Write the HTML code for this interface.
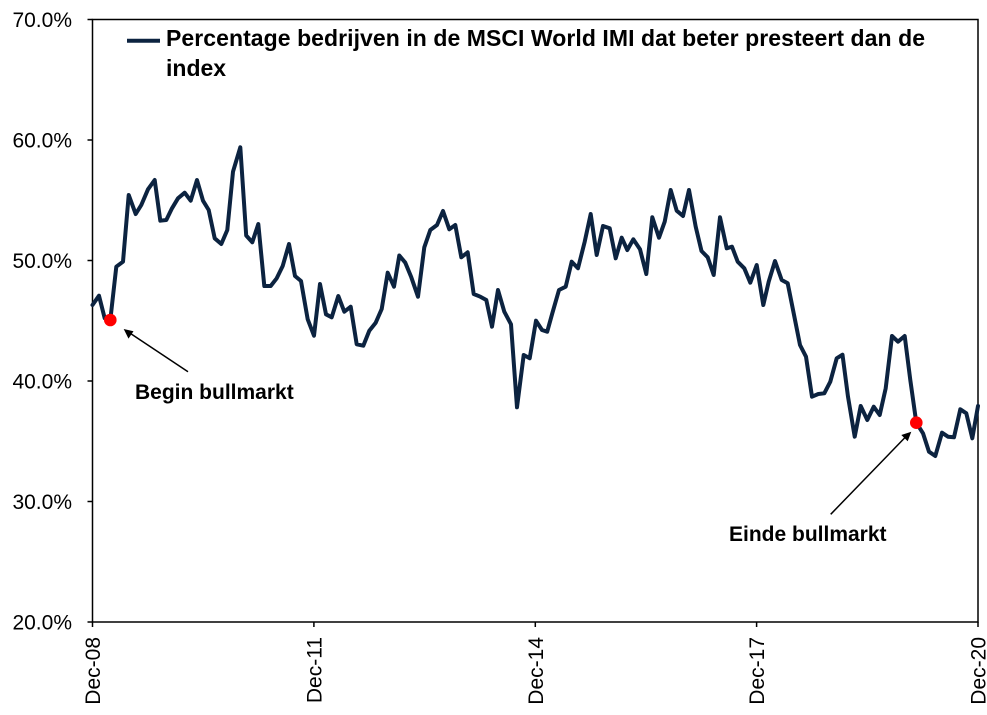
<!DOCTYPE html>
<html>
<head>
<meta charset="utf-8">
<style>
  html,body{margin:0;padding:0;background:#fff;}
  svg{display:block;}
  text{font-family:"Liberation Sans",Arial,sans-serif;fill:#000;}
</style>
</head>
<body>
<svg width="987" height="715" viewBox="0 0 987 715" xmlns="http://www.w3.org/2000/svg">
  <defs>
    <marker id="ah" viewBox="0 0 10 10" refX="9" refY="5" markerWidth="6" markerHeight="6" orient="auto" markerUnits="userSpaceOnUse">
    </marker>
  </defs>
  <rect x="0" y="0" width="987" height="715" fill="#fff"/>

  <!-- frame -->
  <rect x="92.5" y="19.5" width="885.5" height="602.5" fill="none" stroke="#000" stroke-width="1.5"/>

  <!-- y ticks -->
  <g stroke="#000" stroke-width="1.5">
    <line x1="87.5" y1="19.5" x2="92.5" y2="19.5"/>
    <line x1="87.5" y1="140" x2="92.5" y2="140"/>
    <line x1="87.5" y1="260.5" x2="92.5" y2="260.5"/>
    <line x1="87.5" y1="381" x2="92.5" y2="381"/>
    <line x1="87.5" y1="501.5" x2="92.5" y2="501.5"/>
    <line x1="87.5" y1="622" x2="92.5" y2="622"/>
    <!-- x ticks -->
    <line x1="92.5" y1="622" x2="92.5" y2="627"/>
    <line x1="313.9" y1="622" x2="313.9" y2="627"/>
    <line x1="535.3" y1="622" x2="535.3" y2="627"/>
    <line x1="756.6" y1="622" x2="756.6" y2="627"/>
    <line x1="978" y1="622" x2="978" y2="627"/>
  </g>

  <!-- y labels -->
  <g font-size="21" text-anchor="end">
    <text x="72" y="27">70.0%</text>
    <text x="72" y="147.5">60.0%</text>
    <text x="72" y="268">50.0%</text>
    <text x="72" y="388.5">40.0%</text>
    <text x="72" y="509">30.0%</text>
    <text x="72" y="629.5">20.0%</text>
  </g>

  <!-- x labels -->
  <g font-size="21" text-anchor="end">
    <text transform="translate(100,637) rotate(-90)">Dec-08</text>
    <text transform="translate(321.4,637) rotate(-90)">Dec-11</text>
    <text transform="translate(542.8,637) rotate(-90)">Dec-14</text>
    <text transform="translate(764.1,637) rotate(-90)">Dec-17</text>
    <text transform="translate(985.5,637) rotate(-90)">Dec-20</text>
  </g>

  <!-- legend -->
  <line x1="127" y1="40.7" x2="160" y2="40.7" stroke="#0c2340" stroke-width="4"/>
  <text x="166" y="46" font-size="23" font-weight="bold" textLength="759" lengthAdjust="spacing">Percentage bedrijven in de MSCI World IMI dat beter presteert dan de</text>
  <text x="166" y="76" font-size="23" font-weight="bold">index</text>

  <!-- series -->
  <polyline fill="none" stroke="#0c2340" stroke-width="4" stroke-linejoin="round" stroke-linecap="round" points="
92.5,305 99,295.7 104.7,318.3 110.3,320 116.3,266.7 123,261.7 128.7,195 135.7,214 141.3,205 148,189.3 154.7,180
160.3,220.7 166.3,220 172,208.3 178,198.3 184.7,192.7 190.7,200.7 197,180 203,200.7 208.7,210 214.7,238.3 221.3,244
227.3,230 233,171.7 240.3,147.3 246.2,235.5 252.3,242.3 258.3,224 264.3,286 270.7,286 276.7,278.3 282.7,266 289,244
295,276 301,281 307.7,319.3 314,335.7 320,284 326,314.3 331.7,317.3 338.3,296 344.3,311.7 350.7,306.7 356.7,344.3
363.3,345.7 369.3,330.7 375.7,322.7 381.7,309 387.7,272.7 394,286.7 399.3,255.5 405.3,262.7 411.3,277.3 418,296.7
424.3,247.3 430.3,230 437,225 443,211 449.3,229.3 455.3,225 461.3,257.3 467.7,252.3 473.7,294 480.3,296.7 486.3,300
492,326.7 498,290 504.3,311.7 511,324.3 517,407.3 523.7,355 529.7,358.3 536,320.7 542,330 547.2,331.7 552.3,313.3
559,290 565.7,286.7 571.7,261.7 578,268.3 584.7,241.7 590.7,214 596.7,255 603,226 609.7,228.3 615.7,258.3 621.7,237.7
627.3,250 633.3,239.3 640,249.3 646.3,274 652.3,217.3 659,237.7 664.7,221.7 670.7,190 676.7,210.7 683,216 689,190
695.7,226.7 701.5,251 707.7,257.3 713.7,275 720,217.3 726.7,248.3 732,246.7 737.7,261.7 744.3,268.3 750.3,282.7
756.7,265 763.3,305 768.7,281.7 775,261 781.7,280 787.7,283.3 793.7,313.3 800,345 806,356.7 812,396.7 818.3,394
824.3,393.3 830.3,381.7 836.7,358.3 842.5,354.7 848,396.7 854.7,436.7 860.7,406 867.3,420 873.7,406.7 879.7,415
885.7,388.3 892,336 898,341.7 904.7,336 910.3,380 916.3,422.7 923,433.3 929,451.7 935.3,456 942,432.7 948,436.7
954,437.3 960.3,409.3 966.3,413.3 972.3,438.3 978,406"/>

  <!-- markers -->
  <circle cx="110.3" cy="320" r="6.3" fill="#ff0000"/>
  <circle cx="916.3" cy="422.7" r="6.3" fill="#ff0000"/>

  <!-- arrows -->
  <line x1="188" y1="371.7" x2="129" y2="332.5" stroke="#000" stroke-width="1.5"/>
  <polygon points="123.7,329 133.5,331.2 128.5,338.6" fill="#000"/>
  <line x1="830.7" y1="514.3" x2="906.5" y2="436" stroke="#000" stroke-width="1.5"/>
  <polygon points="911.3,431.7 907.7,441.2 901.3,435" fill="#000"/>

  <!-- annotations -->
  <text x="135" y="399" font-size="21" font-weight="bold">Begin bullmarkt</text>
  <text x="729" y="541" font-size="21" font-weight="bold">Einde bullmarkt</text>
</svg>
</body>
</html>
